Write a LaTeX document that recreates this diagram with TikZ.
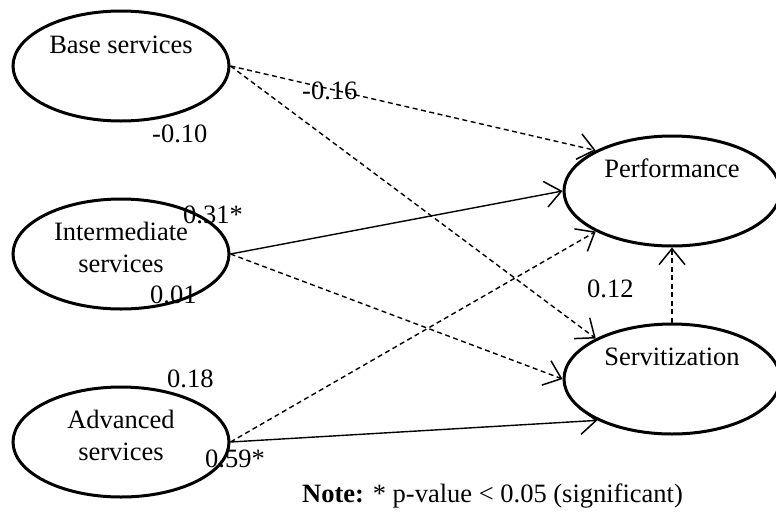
\documentclass[tikz,border=0pt]{standalone}
\usepackage{fontspec}
\setmainfont{Liberation Serif}
\usepackage{tikz}
\usetikzlibrary{arrows.meta,positioning,shapes.geometric}
\tikzset{
latent/.style = {ellipse, draw=black, line width=3pt, minimum width=216pt, minimum height=110pt, inner sep=0pt},% construct
ltext/.style = {align=center, inner sep=0pt, font=\fontsize{26.5}{32}\selectfont},% construct name
coef/.style = {inner sep=0pt, anchor=base west, font=\fontsize{26.5}{32}\selectfont},% path coefficient
path_s/.style = {line width=1.4pt, -{Straight Barb[length=16pt,width=26pt,line width=1.5pt]}},% significant
path_d/.style = {path_s, dash pattern=on 5pt off 3.5pt}% not significant
}
\begin{document}
\begin{tikzpicture}[x=1pt, y=-1pt]
  \useasboundingbox (0,0) rectangle (776,517);
  % constructs
  \node [latent] (base) at (121,66) {};
  \node [latent] (inter) at (121,254) {};
  \node [latent] (adv) at (121,442) {};
  \node [latent] (perf) at (672,191) {};
  \node [latent] (serv) at (672,379) {};
  \node [ltext, anchor=base] (base_t) at (121,53) {Base services};
  \node [ltext] (inter_t) at (121,247) {Intermediate\\services};
  \node [ltext] (adv_t) at (121,435) {Advanced\\services};
  \node [ltext, anchor=base] (perf_t) at (672,177) {Performance};
  \node [ltext, anchor=base] (serv_t) at (672,365) {Servitization};
  % paths
  \draw [path_d] (base.east) -- (perf.152);
  \draw [path_d] (base.east) -- (serv.152);
  \draw [path_s] (inter.east) -- (perf.west);
  \draw [path_d] (inter.east) -- (serv.west);
  \draw [path_d] (adv.east) -- (perf.208);
  \draw [path_s] (adv.east) -- (serv.209);
  \draw [path_d] (serv.north) -- (perf.south);
  % coefficients
  \node [coef] (c_bp) at (302,99) {-0.16};
  \node [coef] (c_bs) at (152,142) {-0.10};
  \node [coef] (c_ip) at (183,223) {0.31*};
  \node [coef] (c_is) at (150,303) {0.01};
  \node [coef] (c_ap) at (167,387) {0.18};
  \node [coef] (c_as) at (205,467) {0.59*};
  \node [coef] (c_sp) at (587,297) {0.12};
  \node [coef] (note) at (302,502) {\textbf{Note:} * p-value < 0.05 (significant)};
\end{tikzpicture}
\end{document}
